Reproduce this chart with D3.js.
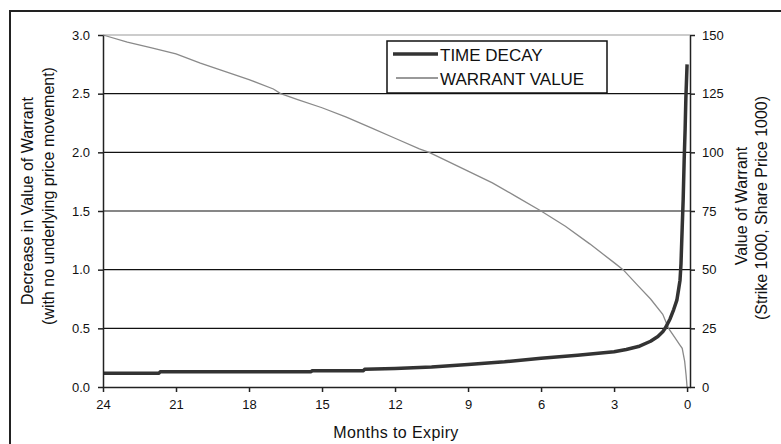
<!DOCTYPE html>
<html>
<head>
<meta charset="utf-8">
<script src="https://cdn.jsdelivr.net/npm/d3@7"></script>
<style>
  body { margin: 0; background: #fff; }
  svg { display: block; font-family: "Liberation Sans", Arial, sans-serif; }
  .axis path, .axis line { stroke: #222; stroke-width: 1.5; }
  .axis text { font-size: 13px; fill: #111; }
</style>
</head>
<body>
<div id="chart"></div>
<script>
// time decay (left axis): months to expiry vs. decrease in value
var decayMonths = [24, 21.7, 21.65, 15.45, 15.4, 13.3, 13.25, 12, 10.5, 9, 7.5, 6, 4.5, 3,
                   2.5, 2, 1.5, 1.2, 1, 0.9, 0.7, 0.55, 0.42, 0.35, 0.29, 0.25, 0.2, 0.16,
                   0.12, 0.08, 0.05, 0.0];
var decayValues = [0.117, 0.117, 0.13, 0.13, 0.139, 0.139, 0.151, 0.158, 0.17, 0.192, 0.215, 0.245, 0.27, 0.30,
                   0.32, 0.345, 0.39, 0.43, 0.47, 0.50, 0.58, 0.66, 0.74, 0.83, 0.91, 1.05, 1.36, 1.6,
                   1.93, 2.2, 2.46, 2.75];
// warrant value (right axis)
var warrantMonths = [24, 23, 22, 21, 20, 19, 18, 17, 16.7, 16, 15, 14, 13, 12, 11, 10.6, 10, 9, 8, 7,
                     6, 5, 4, 3, 2.63, 2, 1.5, 1, 0.76, 0.5, 0.3, 0.2, 0.1, 0.04, 0];
var warrantValues = [150, 147, 144.5, 142, 138, 134.5, 131, 127, 125, 122.5, 119, 115, 110.5, 106, 101.5, 100, 97, 92, 87, 81,
                     75, 68.5, 61, 53, 50, 43, 37.5, 31, 25, 21, 18, 16.5, 11, 5, 0];
var xTicks = [24, 21, 18, 15, 12, 9, 6, 3, 0];
var leftTicks = [0, 0.5, 1, 1.5, 2, 2.5, 3];
var rightTicks = [0, 25, 50, 75, 100, 125, 150];
var legendLabels = ['TIME DECAY', 'WARRANT VALUE'];

var W = 781, H = 444;
var plot = {left: 103, right: 690, top: 35, bottom: 387};

var svg = d3.select('#chart').append('svg')
    .attr('width', W)
    .attr('height', H);

// chart frame (runs off the right / bottom edge)
svg.append('rect')
    .attr('x', 10).attr('y', 11)
    .attr('width', W).attr('height', H)
    .attr('fill', 'none')
    .attr('stroke', '#222')
    .attr('stroke-width', 2);

var xScale = d3.scaleLinear().domain([24, -0.12]).range([plot.left, plot.right]);
var yLeft = d3.scaleLinear().domain([0, 3]).range([plot.bottom, plot.top]);
var yRight = d3.scaleLinear().domain([0, 150]).range([plot.bottom, plot.top]);

// gridlines
svg.append('g')
    .selectAll('line')
    .data(leftTicks.filter(d => d > 0 && d < 3))
  .enter().append('line')
    .attr('x1', plot.left).attr('x2', plot.right)
    .attr('y1', d => yLeft(d)).attr('y2', d => yLeft(d))
    .attr('stroke', '#111')
    .attr('stroke-width', 1.2);
svg.append('line')
    .attr('x1', plot.left).attr('x2', plot.right)
    .attr('y1', yLeft(3)).attr('y2', yLeft(3))
    .attr('stroke', '#999')
    .attr('stroke-width', 1.2);

// series
var decayData = decayMonths.map((m, i) => [m, decayValues[i]]);
var warrantData = warrantMonths.map((m, i) => [m, warrantValues[i]]);

svg.append('path')
    .datum(warrantData)
    .attr('fill', 'none')
    .attr('stroke', '#8a8a8a')
    .attr('stroke-width', 1.3)
    .attr('d', d3.line().x(d => xScale(d[0])).y(d => yRight(d[1])));

svg.append('path')
    .datum(decayData)
    .attr('fill', 'none')
    .attr('stroke', '#333')
    .attr('stroke-width', 3.5)
    .attr('stroke-linejoin', 'round')
    .attr('d', d3.line().x(d => xScale(d[0])).y(d => yLeft(d[1])));

// axes
svg.append('g')
    .attr('class', 'axis')
    .attr('transform', 'translate(' + plot.left + ',0)')
    .call(d3.axisLeft(yLeft).tickValues(leftTicks).tickFormat(d3.format('.1f'))
          .tickSize(5).tickSizeOuter(0).tickPadding(8));
svg.append('g')
    .attr('class', 'axis')
    .attr('transform', 'translate(' + plot.right + ',0)')
    .call(d3.axisRight(yRight).tickValues(rightTicks)
          .tickSize(5).tickSizeOuter(0).tickPadding(7));
svg.append('g')
    .attr('class', 'axis')
    .attr('transform', 'translate(0,' + plot.bottom + ')')
    .call(d3.axisBottom(xScale).tickValues(xTicks)
          .tickSize(5).tickSizeOuter(0).tickPadding(8));

// axis titles
function vTitle(x, y, txt) {
  svg.append('text')
      .attr('transform', 'translate(' + x + ',' + y + ') rotate(-90)')
      .attr('text-anchor', 'middle')
      .style('font-size', '16px')
      .attr('fill', '#111')
      .text(txt);
}
vTitle(33, 201, 'Decrease in Value of Warrant');
vTitle(54, 196, '(with no underlying price movement)');
vTitle(747, 206, 'Value of Warrant');
vTitle(767, 208, '(Strike 1000, Share Price 1000)');

svg.append('text')
    .attr('x', 396).attr('y', 438)
    .attr('text-anchor', 'middle')
    .style('font-size', '16px')
    .style('letter-spacing', '0.4px')
    .attr('fill', '#111')
    .text('Months to Expiry');

// legend
var legend = svg.append('g');
legend.append('rect')
    .attr('x', 387).attr('y', 41)
    .attr('width', 220).attr('height', 52)
    .attr('fill', '#fff')
    .attr('stroke', '#111')
    .attr('stroke-width', 1.5);
var legendStyle = [
  {y: 54, x1: 393, stroke: '#333', width: 3.5},
  {y: 78, x1: 396, stroke: '#777', width: 1.3}
];
legendLabels.forEach(function(lbl, i) {
  let s = legendStyle[i];
  legend.append('line')
      .attr('x1', s.x1).attr('x2', 438)
      .attr('y1', s.y).attr('y2', s.y)
      .attr('stroke', s.stroke)
      .attr('stroke-width', s.width);
  legend.append('text')
      .attr('x', 440).attr('y', s.y + 7)
      .style('font-size', '17px')
      .attr('fill', '#111')
      .text(lbl);
});
</script>
</body>
</html>
